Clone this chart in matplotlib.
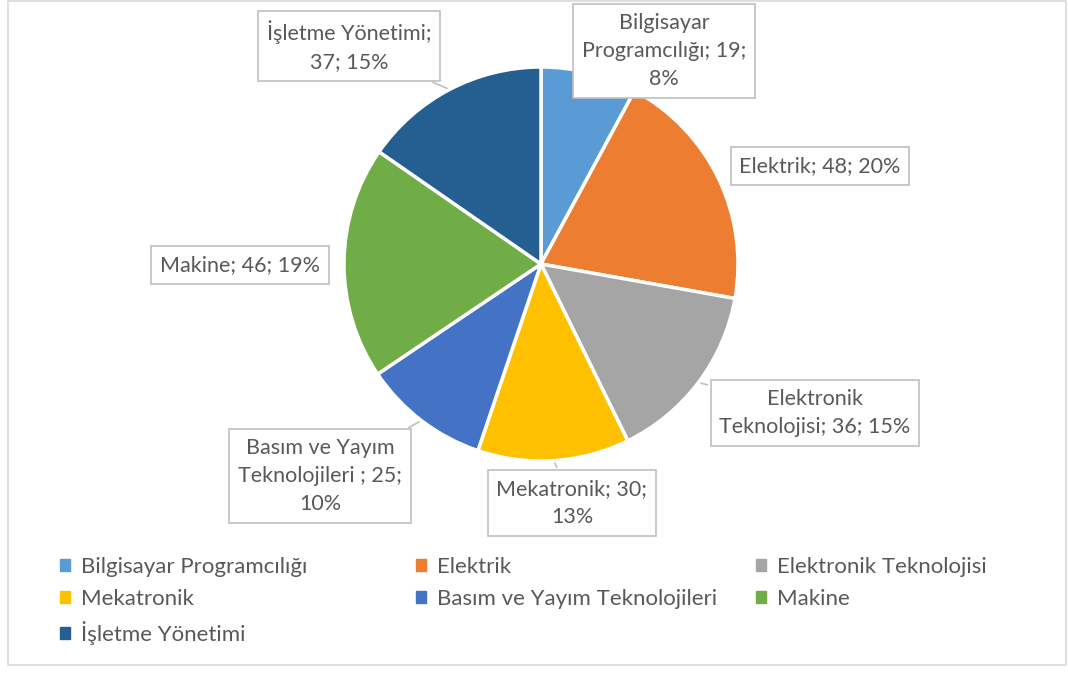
import numpy as np
import matplotlib.pyplot as plt
from matplotlib.patches import Patch, Rectangle

plt.rcParams['font.family'] = ['Lato', 'DejaVu Sans']

categories = ['Bilgisayar Programcılığı', 'Elektrik', 'Elektronik Teknolojisi',
              'Mekatronik', 'Basım ve Yayım Teknolojileri', 'Makine', 'İşletme Yönetimi']
values = [19, 48, 36, 30, 25, 46, 37]
labels = ['Bilgisayar\nProgramcılığı; 19;\n8%',
          'Elektrik; 48; 20%',
          'Elektronik\nTeknolojisi; 36; 15%',
          'Mekatronik; 30;\n13%',
          'Basım ve Yayım\nTeknolojileri ; 25;\n10%',
          'Makine; 46; 19%',
          'İşletme Yönetimi;\n37; 15%']
colors = ['#5B9BD5', '#ED7D31', '#A5A5A5', '#FFC000', '#4472C4', '#70AD47', '#255E91']

# label box centres in pixel coords (x, y from top)
label_pos = [(664, 51), (820, 166), (815, 413), (572, 503), (320, 476), (240, 265), (349, 46)]
draw_leader = [False, False, True, True, True, False, True]

W, H = 1068, 673
fig = plt.figure(figsize=(W / 100, H / 100), dpi=100)
ax = fig.add_axes([0, 0, 1, 1])

cx, cy, r = 541, H - 264, 197
wedges, _ = ax.pie(values, colors=colors, startangle=90, counterclock=False,
                   center=(cx, cy), radius=r, frame=True,
                   wedgeprops=dict(edgecolor='white', linewidth=2.5))
ax.set_xlim(0, W)
ax.set_ylim(0, H)
ax.set_aspect('equal')
ax.axis('off')

# outer chart frame
ax.add_patch(Rectangle((8, 8), W - 10, H - 9, fill=False, ec='#D9D9D9', lw=1.2))

for w, lab, (lx, ly), lead in zip(wedges, labels, label_pos, draw_leader):
    mid = np.deg2rad((w.theta1 + w.theta2) / 2)
    px, py = cx + r * np.cos(mid), cy + r * np.sin(mid)
    ap = dict(arrowstyle='-', color='#BFBFBF', lw=1.2) if lead else None
    ax.annotate(lab, xy=(px, py), xytext=(lx, H - ly), ha='center', va='center',
                fontsize=15.5, color='#595959', linespacing=1.5,
                bbox=dict(boxstyle='square,pad=0.4', fc='white', ec='#BFBFBF', lw=1.2),
                arrowprops=ap)

# legend in three columns
handles = [Patch(color=c) for c in colors]
cols = [[0, 3, 6], [1, 4], [2, 5]]
col_x = [40, 396, 736]
for xs, idx in zip(col_x, cols):
    fig.legend([handles[i] for i in idx], [categories[i] for i in idx],
               loc='upper left', bbox_to_anchor=(xs / W, 1 - 537 / H),
               frameon=False, fontsize=16, labelcolor='#595959',
               handlelength=0.45, handleheight=0.45, handletextpad=0.5,
               labelspacing=0.55)

fig.savefig('out.png', dpi=100, facecolor='white')
